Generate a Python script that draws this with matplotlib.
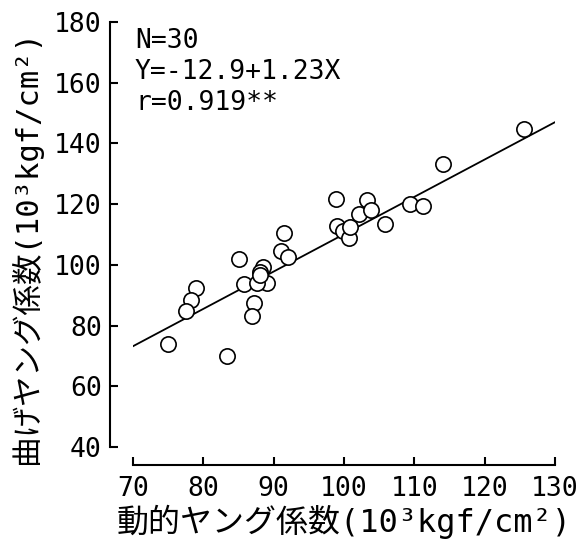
import matplotlib
matplotlib.use("Agg")
import matplotlib.pyplot as plt
import numpy as np

# Data
x_dynamic = [75.0, 83.4, 79.0, 78.3, 77.5, 85.0, 85.8, 87.2, 86.9, 88.5,
             88.1, 89.1, 91.1, 98.9, 91.4, 92.1, 99.0, 99.9, 100.7, 100.9,
             102.2, 103.3, 103.9, 105.8, 109.4, 111.3, 114.1, 125.6, 87.7, 88.0]
y_bending = [74.0, 70.0, 92.5, 88.4, 84.9, 101.8, 93.6, 87.5, 83.1, 99.4,
             97.5, 94.1, 104.5, 121.6, 110.4, 102.7, 112.8, 111.0, 108.7, 112.6,
             116.8, 121.4, 118.1, 113.3, 120.2, 119.4, 133.2, 144.7, 94.0, 96.5]
intercept = -12.9
slope = 1.23
x_ticks = [70, 80, 90, 100, 110, 120, 130]
y_ticks = [40, 60, 80, 100, 120, 140, 160, 180]
stats_lines = ["N=30", "Y=-12.9+1.23X", "r=0.919**"]
x_label = "動的ヤング係数(10³kgf/cm²)"
y_label = "曲げヤング係数(10³kgf/cm²)"

fam = ['DejaVu Sans Mono', 'Noto Sans CJK JP']
plt.rcParams['font.family'] = fam

W, H = 584, 546
fig = plt.figure(figsize=(W / 100, H / 100), dpi=100)
ax = fig.add_axes([133 / W, 1 - 447 / H, (555 - 133) / W, (447 - 22) / H])

ax.set_xlim(70, 130)
ax.set_ylim(40, 180)

xl = np.array([x_ticks[0], x_ticks[-1]])
ax.plot(xl, intercept + slope * xl, color='black', lw=1.3)
ax.plot(x_dynamic, y_bending, linestyle='none', marker='o', markersize=11,
        markerfacecolor='white', markeredgecolor='black', markeredgewidth=1.2,
        clip_on=False)

for s in ['top', 'right']:
    ax.spines[s].set_visible(False)
ax.spines['left'].set_position(('outward', 16.5))
ax.spines['bottom'].set_position(('outward', 13))
for s in ['left', 'bottom']:
    ax.spines[s].set_linewidth(1.5)

ax.set_xticks(x_ticks)
ax.set_yticks(y_ticks)
ax.set_xticklabels([str(v) for v in x_ticks])
ax.set_yticklabels([str(v) for v in y_ticks])
ax.tick_params(direction='in', length=6, width=1.5, labelsize=19, pad=6)
ax.tick_params(axis='x', pad=8)

ax.set_xlabel(x_label, fontsize=23, labelpad=2, family=fam)
ax.set_ylabel(y_label, fontsize=22, labelpad=5, family=fam)
ax.yaxis.set_label_coords(-0.215, 0.47)

for i, t in enumerate(stats_lines):
    fig.text(135 / W, 1 - (41 + 31 * i) / H, t, fontsize=19, va='center',
             ha='left', family=fam)

fig.savefig("out.png", dpi=100)
